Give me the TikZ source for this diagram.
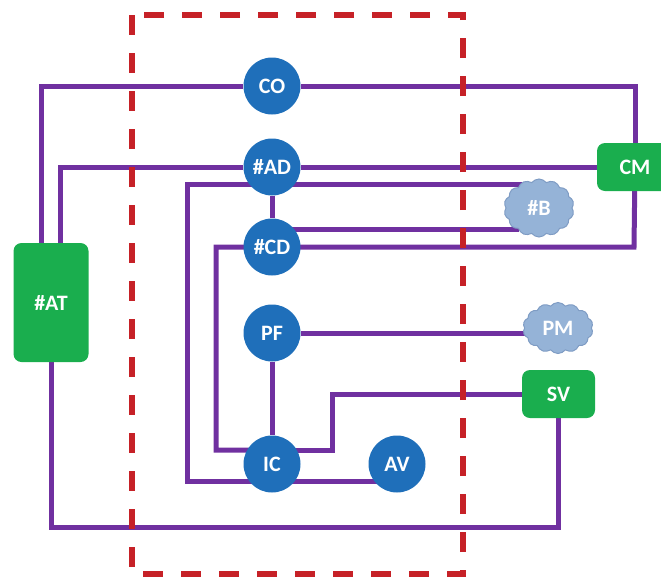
\documentclass[tikz,border=0pt]{standalone}
\usepackage{fontspec}
\setmainfont{Carlito}
\usetikzlibrary{calc,shapes.symbols,backgrounds}
\definecolor{cblue}{HTML}{1F6FBA}
\definecolor{cgreen}{HTML}{1AAE4E}
\definecolor{cpurple}{HTML}{7030A0}
\definecolor{cred}{HTML}{C62127}
\definecolor{ccloud}{HTML}{95B3D7}
\definecolor{ccloudline}{HTML}{7F9CC4}
\begin{document}
\begin{tikzpicture}[x=1pt,y=-1pt,
  txt/.style={text=white,font=\fontsize{22}{26}\selectfont\bfseries},
  circ/.style={circle,fill=cblue,minimum size=57pt,inner sep=0pt,txt},
  gbox/.style={rectangle,rounded corners=8pt,fill=cgreen,inner sep=0pt,txt},
  cloudnode/.style={cloud,cloud puffs=14,cloud puff arc=105,cloud ignores aspect,fill=ccloud,draw=ccloudline,line width=1pt,inner sep=0pt,txt},
  wire/.style={draw=cpurple,line width=5pt,line cap=butt,line join=miter},
  frame/.style={draw=cred,line width=5.5pt,dash pattern=on 20pt off 18pt}]
\useasboundingbox (0,0) rectangle (661,576);
% nodes
\node[circ] (CO) at (272,86) {CO};
\node[circ] (AD) at (272,167) {\#AD};
\node[circ] (CD) at (272,247) {\#CD};
\node[circ] (PF) at (272,333) {PF};
\node[circ] (IC) at (272,464) {IC};
\node[circ] (AV) at (397,464) {AV};
\node[gbox,minimum width=76pt,minimum height=48pt] (CM) at (635,167) {CM};
\node[gbox,minimum width=75pt,minimum height=119pt] (AT) at (51,302.5) {\#AT};
\node[gbox,minimum width=73pt,minimum height=48pt] (SV) at (558.5,394) {SV};
\node[cloudnode,minimum width=70pt,minimum height=58pt] (B) at (539,208) {\#B};
\node[cloudnode,minimum width=70pt,minimum height=51pt] (PM) at (558,328) {PM};
% helper coordinates
\coordinate (at1) at ($(AT.north)+(-10,0)$);
\coordinate (at2) at ($(AT.north)+(9,0)$);
\coordinate (b1) at (522,184);
\coordinate (b2) at (519,229);
\coordinate (k1) at (187,184);
\coordinate (k2) at (187,481);
\coordinate (av1) at (397,481);
\coordinate (cd1) at (216,247);
\coordinate (cd2) at (216,450);
\coordinate (cm1) at (634,247);
\coordinate (ic1) at (272,450);
\coordinate (ic2) at (332,450);
\coordinate (sv1) at (332,394);
\coordinate (bot) at (300,527);
\begin{pgfonlayer}{background}
\draw[wire] (at1) |- (CO) -| (CM);
\draw[wire] (at2) |- (AD) -- (CM);
\draw[wire] (b1) -- (k1) -- (k2) -- (av1);
\draw[wire] (AD) -- (CD);
\draw[wire] (b2) -- (CD.center |- b2);
\draw[wire] (CM) -- (cm1) -- (cd1) -- (cd2) -- (ic1);
\draw[wire] (ic1) -- (ic2) -- (sv1) -- (SV);
\draw[wire] (PF) -- (IC);
\draw[wire] (PF) -- (PF -| PM);
\draw[wire] (AT.south) |- (bot) -| (SV);
\draw[frame] (132,15) rectangle (463,574);
\end{pgfonlayer}
\end{tikzpicture}
\end{document}
